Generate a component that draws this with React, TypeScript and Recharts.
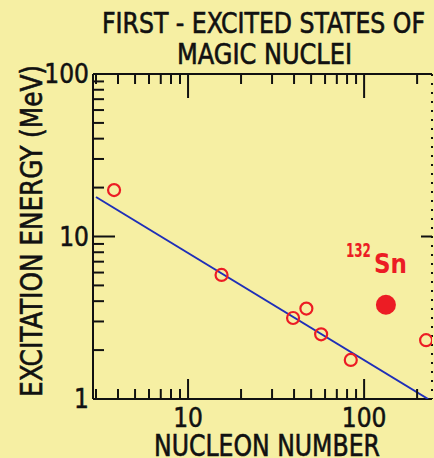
import { Scatter, ScatterChart, XAxis, YAxis } from "recharts";

// axis ticks (log scales)
const xTicks = [3, 4, 5, 6, 7, 8, 9, 10, 20, 30, 40, 50, 60, 70, 80, 90, 100, 200];
const yTicks = [1, 2, 3, 4, 5, 6, 7, 8, 9, 10, 20, 30, 40, 50, 60, 70, 80, 90, 100];
const xLabelled = [10, 100];
const yLabelled = [1, 10, 100];
const xMajor = [10, 100];
const yMajor = [10];
const rightTicks = [10];

// first excited states (open circles)
const nucleonNumber = [3.8, 15.5, 39.5, 47, 57, 84, 225];
const excitationMeV = [19.3, 5.8, 3.15, 3.6, 2.5, 1.74, 2.3];

// 132Sn (filled)
const snNucleons = [133];
const snEnergy = [3.8];

// fitted line end points
const fitNucleons = [3.0, 231];
const fitEnergy = [17.5, 1];

const BG = "#f6efa3";
const INK = "#111111";
const RED = "#ec1c24";
const BLUE = "#1f2fb8";
const FONT = "'Liberation Sans Narrow', 'DejaVu Sans Condensed', 'Liberation Sans', sans-serif";

const W = 434;
const H = 458;

const states = nucleonNumber.map((a, i) => ({ x: a, y: excitationMeV[i] }));
const sn = snNucleons.map((a, i) => ({ x: a, y: snEnergy[i] }));
const fit = fitNucleons.map((a, i) => ({ x: a, y: fitEnergy[i] }));

const X_DOMAIN: [number, number] = [2.885, 243];
const Y_DOMAIN: [number, number] = [1, 100];

function BottomTick(props: any) {
  const { x, y, payload } = props;
  const v = payload.value;
  const len = xMajor.includes(v) ? 20 : 10;
  return (
    <g>
      <line x1={x} x2={x} y1={y} y2={y - len} stroke={INK} strokeWidth={2} />
      {xLabelled.includes(v) && (
        <text x={x} y={y + 28} textAnchor="middle" fontFamily={FONT} fontSize={26} fill={INK} stroke={INK} strokeWidth={0.5}>
          {v}
        </text>
      )}
    </g>
  );
}

function TopTick(props: any) {
  const { x, y, payload } = props;
  const len = xMajor.includes(payload.value) ? 24 : 10;
  return <line x1={x} x2={x} y1={y} y2={y + len} stroke={INK} strokeWidth={2} />;
}

function LeftTick(props: any) {
  const { x, y, payload } = props;
  const v = payload.value;
  const len = yMajor.includes(v) ? 22 : 11;
  return (
    <g>
      <line x1={x} x2={x + len} y1={y} y2={y} stroke={INK} strokeWidth={2} />
      {yLabelled.includes(v) && (
        <text x={x - 4} y={y + 9} textAnchor="end" fontFamily={FONT} fontSize={26} fill={INK} stroke={INK} strokeWidth={0.5}>
          {v}
        </text>
      )}
    </g>
  );
}

function RightTick(props: any) {
  const { x, y } = props;
  return <line x1={x} x2={x - 11} y1={y} y2={y} stroke={INK} strokeWidth={2} />;
}

function OpenCircle(props: any) {
  return <circle cx={props.cx} cy={props.cy} r={6} fill="none" stroke={RED} strokeWidth={2.2} />;
}

function SnPoint(props: any) {
  const { cx, cy } = props;
  return (
    <g>
      <circle cx={cx} cy={cy} r={10} fill={RED} />
      <text x={cx - 40} y={cy - 48} fontFamily={FONT} fontWeight="bold" fontSize={19} fill={RED} textLength={25} lengthAdjust="spacingAndGlyphs">
        132
      </text>
      <text x={cx - 12} y={cy - 32} fontFamily={FONT} fontWeight="bold" fontSize={27} fill={RED} textLength={33} lengthAdjust="spacingAndGlyphs">
        Sn
      </text>
    </g>
  );
}

export default function App() {
  return (
    <div style={{ position: "absolute", left: 0, top: 0, width: W, height: H, background: BG }}>
      <ScatterChart
        width={W}
        height={H}
        margin={{ top: 73, right: 1, bottom: 58, left: 92 }}
        style={{ background: BG }}
      >
        <XAxis
          xAxisId={0}
          type="number"
          dataKey="x"
          scale="log"
          domain={X_DOMAIN}
          allowDataOverflow
          ticks={xTicks}
          interval={0}
          height={1}
          tickSize={0}
          tickMargin={0}
          tickLine={false}
          axisLine={{ stroke: INK, strokeWidth: 2 }}
          tick={BottomTick}
        />
        <XAxis
          xAxisId="top"
          orientation="top"
          type="number"
          dataKey="x"
          scale="log"
          domain={X_DOMAIN}
          allowDataOverflow
          ticks={xTicks}
          interval={0}
          height={1}
          tickSize={0}
          tickMargin={0}
          tickLine={false}
          axisLine={{ stroke: INK, strokeWidth: 2 }}
          tick={TopTick}
        />
        <YAxis
          yAxisId={0}
          type="number"
          dataKey="y"
          scale="log"
          domain={Y_DOMAIN}
          allowDataOverflow
          ticks={yTicks}
          interval={0}
          width={1}
          tickSize={0}
          tickMargin={0}
          tickLine={false}
          axisLine={{ stroke: INK, strokeWidth: 2 }}
          tick={LeftTick}
        />
        <YAxis
          yAxisId="right"
          orientation="right"
          type="number"
          dataKey="y"
          scale="log"
          domain={Y_DOMAIN}
          allowDataOverflow
          ticks={rightTicks}
          interval={0}
          width={1}
          tickSize={0}
          tickMargin={0}
          tickLine={false}
          axisLine={{ stroke: INK, strokeWidth: 2, strokeDasharray: "2 7" }}
          tick={RightTick}
        />
        <Scatter
          data={fit}
          line={{ stroke: BLUE, strokeWidth: 2 }}
          shape={() => <g />}
          isAnimationActive={false}
        />
        <Scatter data={states} shape={OpenCircle} isAnimationActive={false} />
        <Scatter data={sn} shape={SnPoint} isAnimationActive={false} />
      </ScatterChart>
      <svg
        width={W}
        height={H}
        style={{ position: "absolute", left: 0, top: 0, pointerEvents: "none" }}
      >
        <g fontFamily={FONT} fill={INK} stroke={INK} strokeWidth={0.6}>
          <text x={263.5} y={33} fontSize={28} textAnchor="middle" textLength={323} lengthAdjust="spacingAndGlyphs">
            FIRST - EXCITED STATES OF
          </text>
          <text x={264.5} y={64} fontSize={28} textAnchor="middle" textLength={175} lengthAdjust="spacingAndGlyphs">
            MAGIC NUCLEI
          </text>
          <text x={267} y={456} fontSize={30} textAnchor="middle" textLength={226} lengthAdjust="spacingAndGlyphs">
            NUCLEON NUMBER
          </text>
          <text
            transform="translate(42 231) rotate(-90)"
            fontSize={30}
            textAnchor="middle"
            textLength={332}
            lengthAdjust="spacingAndGlyphs"
          >
            EXCITATION ENERGY  (MeV)
          </text>
        </g>
      </svg>
    </div>
  );
}
